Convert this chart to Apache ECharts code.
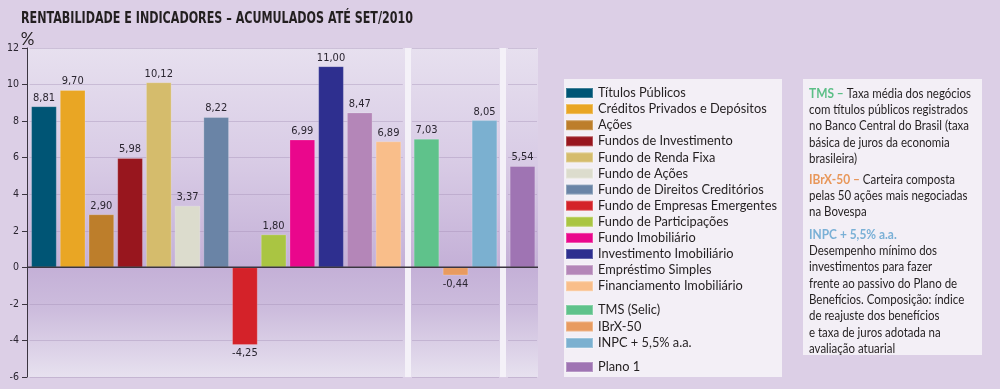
<!DOCTYPE html>
<html>
<head>
<meta charset="utf-8">
<script src="https://cdn.jsdelivr.net/npm/echarts@6/dist/echarts.min.js"></script>
<style>
html,body{margin:0;padding:0;background:#dccfe6;}
#chart{width:1000px;height:389px;}
</style>
</head>
<body>
<div id="chart"></div>
<script>
// ---- data ----
const titleText = 'RENTABILIDADE E INDICADORES – ACUMULADOS ATÉ SET/2010';
const fundCats = ['Títulos Públicos','Créditos Privados e Depósitos','Ações','Fundos de Investimento','Fundo de Renda Fixa','Fundo de Ações','Fundo de Direitos Creditórios','Fundo de Empresas Emergentes','Fundo de Participações','Fundo Imobiliário','Investimento Imobiliário','Empréstimo Simples','Financiamento Imobiliário'];
const fundVals = [8.81, 9.70, 2.90, 5.98, 10.12, 3.37, 8.22, -4.25, 1.80, 6.99, 11.00, 8.47, 6.89];
const fundColors = ['#005575','#e9a624','#bd7e2b','#98161e','#d5bc6c','#dcdccd','#6a84a6','#d42229','#aac542','#ea078c','#2e2f8f','#b486b8','#f9be8a'];
const indexCats = ['TMS (Selic)','IBrX-50','INPC + 5,5% a.a.'];
const indexVals = [7.03, -0.44, 8.05];
const indexColors = ['#5fc28b','#e89b60','#7bb0d0'];
const planCats = ['Plano 1'];
const planVals = [5.54];
const planColors = ['#9f74b3'];
const yMin = -6, yMax = 12, yStep = 2;
const unitLabel = '%';
const notes = [
  {key:'TMS –', color:'#5cbf87', lines:[' Taxa média dos negócios','com títulos públicos registrados','no Banco Central do Brasil (taxa','básica de juros da economia','brasileira)']},
  {key:'IBrX-50 –', color:'#e8975a', lines:[' Carteira composta','pelas 50 ações mais negociadas','na Bovespa']},
  {key:'INPC + 5,5% a.a.', color:'#7ab0d6', lines:['','Desempenho mínimo dos','investimentos para fazer','frente ao passivo do Plano de','Benefícios. Composição: índice','de reajuste dos benefícios','e taxa de juros adotada na','avaliação atuarial']}
];

// ---- helpers ----
const labelFont = "'Liberation Sans Narrow','DejaVu Sans Condensed',Lato,sans-serif";
const textFont = "Lato, 'Open Sans', sans-serif";
const fmt = v => v.toFixed(2).replace('.', ',');
const mctx = document.createElement('canvas').getContext('2d');
function measure(text, font) { mctx.font = font; return mctx.measureText(text).width; }

// ---- chart ----
const chart = echarts.init(document.getElementById('chart'));
const groups = [
  {cats: fundCats, vals: fundVals, colors: fundColors, left: 29.6, width: 373.2},
  {cats: indexCats, vals: indexVals, colors: indexColors, left: 412, width: 87},
  {cats: planCats, vals: planVals, colors: planColors, left: 508, width: 29}
];

const grids = [], xAxes = [], yAxes = [], series = [];
groups.forEach((g, gi) => {
  grids.push({left: g.left, width: g.width, top: 48, height: 329, containLabel: false});
  xAxes.push({type: 'category', gridIndex: gi, data: g.cats, axisLine: {show: false}, axisTick: {show: false}, axisLabel: {show: false}, splitLine: {show: false}});
  yAxes.push({
    type: 'value', gridIndex: gi, min: yMin, max: yMax, interval: yStep,
    offset: gi === 0 ? 2.6 : 0,
    axisLine: {show: gi === 0, lineStyle: {color: '#3b3540', width: 1}},
    axisTick: {show: gi === 0, length: 5, lineStyle: {color: '#3b3540'}},
    axisLabel: {show: gi === 0, margin: 8, fontFamily: labelFont, fontSize: 10.5, color: '#2a2530'},
    splitLine: {show: true, lineStyle: {color: 'rgba(160,140,180,0.38)', width: 1}}
  });
  g.cats.forEach((c, i) => {
    const v = g.vals[i];
    series.push({
      name: c, type: 'bar', xAxisIndex: gi, yAxisIndex: gi, stack: 'g' + gi,
      barWidth: 25.5,
      data: g.cats.map((_, j) => j === i ? v : '-'),
      itemStyle: {color: g.colors[i], borderColor: 'rgba(255,255,255,0.25)', borderWidth: 0.8},
      label: {show: true, position: v >= 0 ? 'top' : 'bottom', distance: 3, formatter: p => fmt(p.value), fontFamily: labelFont, fontSize: 11, color: '#2a2530'},
      emphasis: {disabled: true}, animation: false
    });
  });
});

const legendBase = {orient: 'vertical', left: 565, icon: 'rect', itemWidth: 27, itemHeight: 10, itemGap: 3.1, padding: 0, selectedMode: false,
  textStyle: {fontFamily: textFont, fontSize: 12.8, color: '#231f20'}};

// notes text, horizontally condensed to the reference's measure
const noteScale = 159 / measure('com títulos públicos registrados', "13px Lato");
const noteElems = [];
const noteTops = [85.5, 171.5, 226.5];
notes.forEach((n, k) => {
  const txt = '{k|' + n.key + '}' + n.lines.join('\n');
  noteElems.push({type: 'text', id: 'note' + k, x: 809, y: noteTops[k], scaleX: noteScale, z: 5, silent: true,
    style: {text: txt, fontSize: 13, fontFamily: textFont, fill: '#231f20', lineHeight: 16.3, verticalAlign: 'top',
      rich: {k: {fill: n.color, fontWeight: 'bold', fontSize: 13.5, fontFamily: textFont, lineHeight: 16.3}}}});
});

const titleScale = 392 / measure(titleText, "bold 16px 'DejaVu Sans'");

const bgGradient = new echarts.graphic.LinearGradient(0, 0, 0, 1, [
  {offset: 0, color: '#e7e0ef'}, {offset: 0.35, color: '#d8cbe5'}, {offset: 0.666, color: '#c4b0d7'},
  {offset: 0.8, color: '#cdbddd'}, {offset: 1, color: '#e7e1ef'}]);

chart.setOption({
  backgroundColor: '#dccfe6',
  animation: false,
  grid: grids, xAxis: xAxes, yAxis: yAxes, series: series,
  legend: [
    Object.assign({}, legendBase, {top: 86.5, data: fundCats}),
    Object.assign({}, legendBase, {top: 303.5, itemGap: 3.5, data: indexCats}),
    Object.assign({}, legendBase, {top: 360.5, data: planCats})
  ],
  graphic: [
    {type: 'rect', id: 'plotbg', shape: {x: 27, y: 48, width: 511, height: 329}, z: -10, silent: true, style: {fill: bgGradient}},
    {type: 'rect', id: 'sep1', shape: {x: 405, y: 48, width: 6, height: 329}, z: -5, silent: true, style: {fill: '#f4f1f8'}},
    {type: 'rect', id: 'sep2', shape: {x: 500, y: 48, width: 6, height: 329}, z: -5, silent: true, style: {fill: '#f4f1f8'}},
    {type: 'rect', id: 'legbox', shape: {x: 564, y: 79, width: 218, height: 298}, z: -5, silent: true, style: {fill: '#f3eff6'}},
    {type: 'rect', id: 'notebox', shape: {x: 803, y: 79, width: 179, height: 276}, z: -5, silent: true, style: {fill: '#f3eff6'}},
    {type: 'text', id: 'title', x: 21, y: 11, scaleX: titleScale, z: 5, silent: true,
      style: {text: titleText, fontSize: 16, fontWeight: 'bold', fontFamily: 'DejaVu Sans', fill: '#231f20', verticalAlign: 'top'}},
    {type: 'text', id: 'unit', x: 27.5, y: 39.5, z: 5, silent: true,
      style: {text: unitLabel, fontSize: 17, fontFamily: textFont, fill: '#231f20', align: 'center', verticalAlign: 'middle'}}
  ].concat(noteElems)
});

// zero line across the whole plot, from the value axis scale
const y0 = chart.convertToPixel({yAxisIndex: 0}, 0);
chart.setOption({graphic: [
  {type: 'line', id: 'zero', shape: {x1: 27, y1: y0, x2: 538, y2: y0}, z: 10, silent: true, style: {stroke: '#3b3540', lineWidth: 1.5}}
]});
</script>
</body>
</html>
